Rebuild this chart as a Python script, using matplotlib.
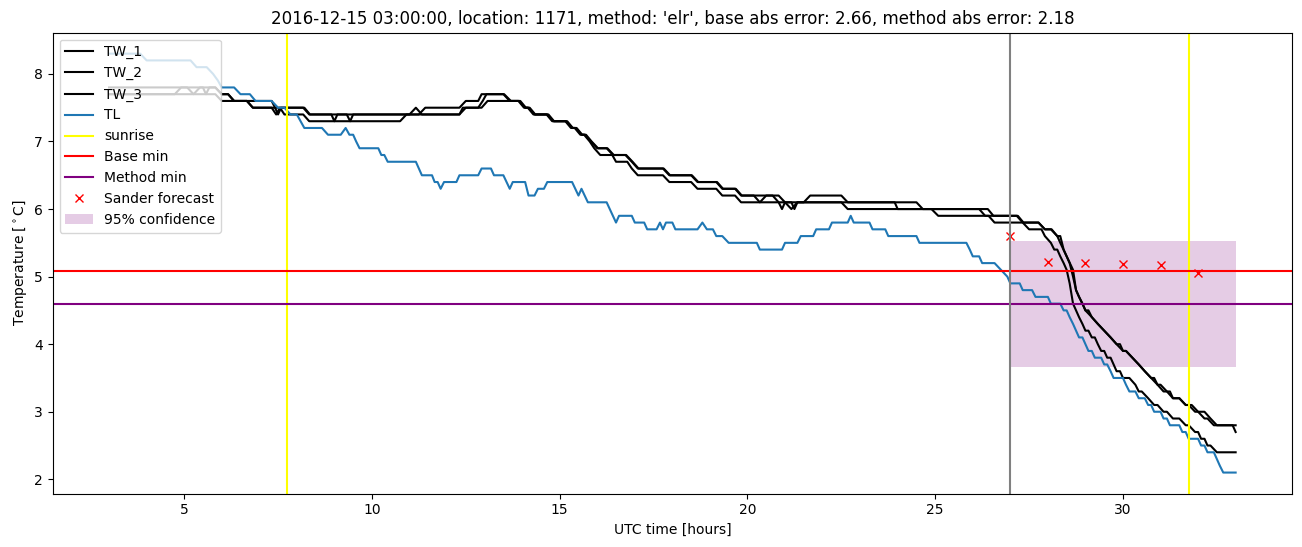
import matplotlib.pyplot as plt

# series read off the chart as levels: (start hour, end hour, value in degC)
# consecutive levels are joined by straight segments (10 minute data)
tw1_levels = [
    (3.0, 5.83, 7.8), (6.0, 6.17, 7.7), (6.33, 6.67, 7.6), (6.83, 8.17, 7.5),
    (8.33, 11.25, 7.4), (11.42, 12.33, 7.5), (12.5, 12.83, 7.6), (12.92, 13.5, 7.7),
    (13.67, 13.92, 7.6), (14.08, 14.17, 7.5), (14.33, 14.67, 7.4), (14.83, 15.17, 7.3),
    (15.33, 15.42, 7.2), (15.58, 15.67, 7.1), (15.83, 15.83, 7.0), (16.0, 16.25, 6.9),
    (16.42, 16.75, 6.8), (16.92, 16.92, 6.7), (17.08, 17.75, 6.6), (17.92, 18.5, 6.5),
    (18.67, 19.17, 6.4), (19.33, 19.67, 6.3), (19.83, 20.67, 6.2), (20.83, 21.5, 6.1),
    (21.67, 22.5, 6.2), (22.67, 23.92, 6.1), (24.0, 26.17, 6.0), (26.33, 27.17, 5.9),
    (27.33, 27.75, 5.8), (27.92, 28.08, 5.7), (28.25, 28.25, 5.6), (28.33, 28.33, 5.5),
    (28.5, 28.5, 5.3), (28.67, 28.67, 5.1), (28.75, 28.75, 4.8), (28.83, 28.83, 4.7),
    (28.92, 28.92, 4.6), (29.0, 29.0, 4.5), (29.17, 29.17, 4.4), (29.33, 29.33, 4.3),
    (29.5, 29.5, 4.2), (29.67, 29.67, 4.1), (29.83, 29.83, 4.0), (30.0, 30.08, 3.9),
    (30.25, 30.25, 3.8), (30.42, 30.42, 3.7), (30.58, 30.58, 3.6), (30.75, 30.75, 3.5),
    (30.92, 30.92, 3.4), (31.08, 31.17, 3.3), (31.33, 31.5, 3.2), (31.67, 31.83, 3.1),
    (32.0, 32.17, 3.0), (32.33, 32.33, 2.9), (32.5, 32.92, 2.8), (33.0, 33.0, 2.7),
]

tw2_levels = [
    (3.0, 4.75, 7.7), (4.92, 5.08, 7.8), (5.25, 5.25, 7.7), (5.42, 5.5, 7.8),
    (5.58, 5.58, 7.7), (5.67, 5.83, 7.8), (6.0, 6.17, 7.7), (6.33, 7.33, 7.6),
    (7.42, 7.42, 7.5), (7.5, 7.5, 7.4), (7.58, 8.2, 7.5), (8.35, 8.92, 7.4),
    (9.0, 9.0, 7.3), (9.08, 9.33, 7.4), (9.42, 9.42, 7.3), (9.5, 11.0, 7.4),
    (11.17, 11.17, 7.5), (11.33, 12.33, 7.4), (12.5, 12.83, 7.5), (12.95, 12.95, 7.6),
    (13.05, 13.52, 7.7), (13.7, 13.95, 7.6), (14.1, 14.2, 7.5), (14.35, 14.7, 7.4),
    (14.85, 15.2, 7.3), (15.35, 15.45, 7.2), (15.6, 15.7, 7.1), (15.85, 15.85, 7.0),
    (16.02, 16.27, 6.9), (16.44, 16.77, 6.8), (16.94, 16.94, 6.7), (17.1, 17.77, 6.6),
    (17.94, 18.52, 6.5), (18.69, 19.19, 6.4), (19.35, 19.69, 6.3), (19.85, 20.17, 6.2),
    (20.33, 20.33, 6.1), (20.5, 20.83, 6.2), (21.0, 21.0, 6.1), (21.17, 21.17, 6.0),
    (21.33, 24.5, 6.1), (24.67, 26.4, 6.0), (26.55, 27.2, 5.9), (27.35, 27.75, 5.8),
    (27.92, 28.1, 5.7), (28.25, 28.33, 5.6), (28.42, 28.42, 5.4), (28.5, 28.5, 5.3),
    (28.58, 28.58, 5.2), (28.67, 28.67, 5.0), (28.75, 28.75, 4.8), (28.83, 28.83, 4.7),
    (28.92, 28.92, 4.6), (29.0, 29.08, 4.5), (29.17, 29.17, 4.4), (29.33, 29.33, 4.3),
    (29.5, 29.5, 4.2), (29.67, 29.67, 4.1), (29.83, 29.92, 4.0), (30.0, 30.08, 3.9),
    (30.25, 30.25, 3.8), (30.42, 30.42, 3.7), (30.58, 30.58, 3.6), (30.75, 30.83, 3.5),
    (30.92, 31.0, 3.4), (31.17, 31.25, 3.3), (31.33, 31.5, 3.2), (31.67, 31.75, 3.1),
    (31.92, 32.0, 3.0), (32.17, 32.25, 2.9), (32.42, 33.0, 2.8),
]

tw3_levels = [
    (3.0, 5.83, 7.7), (6.0, 6.67, 7.6), (6.83, 7.33, 7.5), (7.45, 7.45, 7.4),
    (7.55, 7.55, 7.5), (7.67, 8.17, 7.4), (8.33, 10.75, 7.3), (10.92, 12.33, 7.4),
    (12.42, 12.92, 7.5), (13.08, 13.9, 7.6), (14.05, 14.15, 7.5), (14.3, 14.65, 7.4),
    (14.8, 15.15, 7.3), (15.3, 15.4, 7.2), (15.55, 15.65, 7.1), (15.8, 15.8, 7.0),
    (15.92, 15.92, 6.9), (16.08, 16.4, 6.8), (16.5, 16.8, 6.7), (16.92, 16.92, 6.6),
    (17.08, 17.75, 6.5), (17.92, 18.5, 6.4), (18.67, 19.17, 6.3), (19.33, 19.67, 6.2),
    (19.83, 20.83, 6.1), (20.92, 20.92, 6.0), (21.0, 21.17, 6.1), (21.25, 21.25, 6.0),
    (21.33, 22.5, 6.1), (22.67, 24.9, 6.0), (25.08, 26.42, 5.9), (26.58, 27.33, 5.8),
    (27.5, 27.83, 5.7), (27.92, 27.92, 5.6), (28.08, 28.08, 5.5), (28.17, 28.25, 5.4),
    (28.33, 28.33, 5.3), (28.42, 28.42, 5.2), (28.5, 28.5, 5.1), (28.58, 28.58, 4.9),
    (28.67, 28.67, 4.6), (28.75, 28.75, 4.5), (28.83, 28.83, 4.4), (28.92, 28.92, 4.3),
    (29.0, 29.08, 4.2), (29.17, 29.25, 4.1), (29.33, 29.33, 4.0), (29.42, 29.5, 3.9),
    (29.58, 29.67, 3.8), (29.75, 29.75, 3.7), (29.83, 29.92, 3.6), (30.0, 30.17, 3.5),
    (30.33, 30.33, 3.4), (30.42, 30.5, 3.3), (30.67, 30.67, 3.2), (30.83, 30.92, 3.1),
    (31.08, 31.17, 3.0), (31.33, 31.5, 2.9), (31.67, 31.75, 2.8), (31.92, 32.0, 2.7),
    (32.08, 32.17, 2.6), (32.25, 32.33, 2.5), (32.5, 33.0, 2.4),
]

tl_levels = [
    (3.0, 3.83, 8.3), (4.0, 5.17, 8.2), (5.33, 5.6, 8.1), (5.77, 5.77, 8.0),
    (5.9, 5.9, 7.9), (6.0, 6.33, 7.8), (6.5, 6.75, 7.7), (6.9, 7.33, 7.6),
    (7.5, 7.67, 7.5), (7.83, 8.0, 7.4), (8.1, 8.1, 7.3), (8.2, 8.67, 7.2),
    (8.83, 9.17, 7.1), (9.3, 9.3, 7.2), (9.4, 9.5, 7.1), (9.58, 9.58, 7.0),
    (9.67, 10.17, 6.9), (10.25, 10.33, 6.8), (10.42, 11.17, 6.7), (11.25, 11.25, 6.6),
    (11.33, 11.6, 6.5), (11.67, 11.75, 6.4), (11.83, 11.83, 6.3), (11.92, 12.25, 6.4),
    (12.33, 12.83, 6.5), (12.92, 13.17, 6.6), (13.25, 13.5, 6.5), (13.67, 13.67, 6.3),
    (13.75, 14.08, 6.4), (14.17, 14.33, 6.2), (14.42, 14.58, 6.3), (14.67, 15.33, 6.4),
    (15.5, 15.5, 6.2), (15.58, 15.58, 6.3), (15.75, 16.25, 6.1), (16.5, 16.5, 5.8),
    (16.58, 16.92, 5.9), (17.0, 17.25, 5.8), (17.33, 17.58, 5.7), (17.67, 17.67, 5.8),
    (17.75, 17.75, 5.7), (17.83, 18.0, 5.8), (18.08, 18.67, 5.7), (18.8, 18.8, 5.8),
    (18.92, 19.08, 5.7), (19.17, 19.33, 5.6), (19.5, 20.25, 5.5), (20.33, 20.92, 5.4),
    (21.0, 21.33, 5.5), (21.42, 21.75, 5.6), (21.83, 22.17, 5.7), (22.25, 22.67, 5.8),
    (22.75, 22.75, 5.9), (22.83, 23.25, 5.8), (23.33, 23.67, 5.7), (23.75, 24.5, 5.6),
    (24.58, 25.83, 5.5), (25.92, 25.92, 5.4), (26.0, 26.17, 5.3), (26.25, 26.58, 5.2),
    (26.75, 26.75, 5.1), (26.92, 26.92, 5.0), (27.0, 27.25, 4.9), (27.33, 27.58, 4.8),
    (27.67, 28.0, 4.7), (28.08, 28.33, 4.6), (28.42, 28.5, 4.5), (28.58, 28.58, 4.4),
    (28.67, 28.67, 4.3), (28.75, 28.75, 4.2), (28.83, 28.92, 4.1), (29.0, 29.0, 4.0),
    (29.08, 29.17, 3.9), (29.25, 29.42, 3.8), (29.5, 29.58, 3.7), (29.67, 29.67, 3.6),
    (29.75, 30.0, 3.5), (30.08, 30.08, 3.4), (30.17, 30.33, 3.3), (30.42, 30.58, 3.2),
    (30.67, 30.75, 3.1), (30.83, 31.0, 3.0), (31.08, 31.17, 2.9), (31.25, 31.5, 2.8),
    (31.58, 31.67, 2.7), (31.75, 32.0, 2.6), (32.08, 32.17, 2.5), (32.25, 32.42, 2.4),
    (32.5, 32.5, 2.3), (32.58, 32.58, 2.2), (32.67, 33.0, 2.1),
]

sunrise_hours = [7.75, 31.75]
forecast_start = 27.0
base_min = 5.08
method_min = 4.59
conf_low, conf_high = 3.66, 5.53
conf_hours = [27.0, 33.0]
sander_hours = [27, 28, 29, 30, 31, 32]
sander_temps = [5.60, 5.22, 5.20, 5.19, 5.17, 5.06]

title = ("2016-12-15 03:00:00, location: 1171, method: 'elr', "
         "base abs error: 2.66, method abs error: 2.18")


def to_xy(levels):
    t, v = [], []
    for start, end, val in levels:
        t.append(start)
        v.append(val)
        if end != start:
            t.append(end)
            v.append(val)
    return t, v


fig = plt.figure(figsize=(13.02, 5.47), dpi=100)
ax = fig.add_axes([0.0405, 0.0978, 0.9518, 0.8424])

for name, levels in [('TW_1', tw1_levels), ('TW_2', tw2_levels), ('TW_3', tw3_levels)]:
    t, v = to_xy(levels)
    ax.plot(t, v, color='black', label=name)

t, v = to_xy(tl_levels)
ax.plot(t, v, color='tab:blue', label='TL')

ax.axvline(sunrise_hours[0], color='yellow', label='sunrise')
ax.axvline(sunrise_hours[1], color='yellow')
ax.axhline(base_min, color='red', label='Base min')
ax.axhline(method_min, color='purple', label='Method min')
ax.plot(sander_hours, sander_temps, 'x', color='red', label='Sander forecast')
ax.fill_between(conf_hours, conf_low, conf_high, color='purple', alpha=0.2,
                linewidth=0, label='95% confidence')
ax.axvline(forecast_start, color='gray')

ax.set_xlim(1.5, 34.5)
ax.set_ylim(1.79, 8.61)
ax.set_title(title)
ax.set_xlabel('UTC time [hours]')
ax.set_ylabel(r'Temperature [$^\circ$C]')
ax.legend(loc='upper left')

fig.savefig('out.png', dpi=100)
